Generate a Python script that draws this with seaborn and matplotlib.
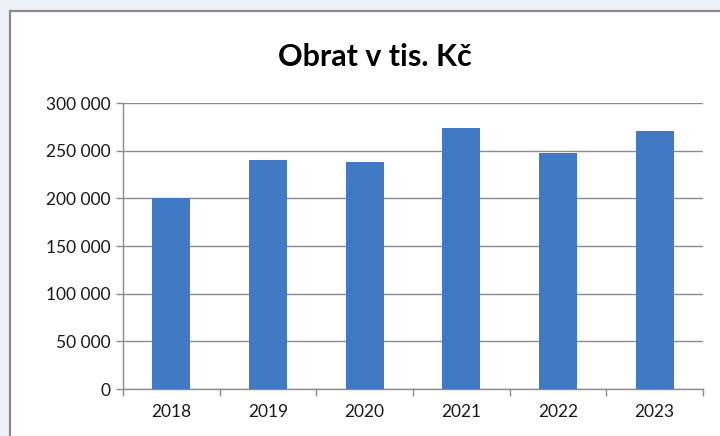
import matplotlib
matplotlib.use("Agg")
import matplotlib.pyplot as plt
import matplotlib.ticker as mticker
from matplotlib.patches import Rectangle
import seaborn as sns
import pandas as pd

years = ["2018", "2019", "2020", "2021", "2022", "2023"]
obrat = [200000, 240000, 238000, 274000, 248000, 271000]
yticks = [0, 50000, 100000, 150000, 200000, 250000, 300000]
title = "Obrat v tis. Kč"

sns.set_style("white")
plt.rcParams["font.family"] = ["Lato", "DejaVu Sans"]

fig = plt.figure(figsize=(7.2, 4.36), dpi=100, facecolor="#eef1f7")
bg = Rectangle((9.5 / 720, -0.1), 1.2, 1 - 11.5 / 436 + 0.1, transform=fig.transFigure,
               facecolor="white", edgecolor="#8a8a8a", linewidth=1.6, zorder=-5)
fig.patches.append(bg)

ax = fig.add_axes([123 / 720, 1 - 389 / 436, 580 / 720, 286 / 436])
ax.set_facecolor("none")
df = pd.DataFrame({"rok": years, "obrat": obrat})
sns.barplot(data=df, x="rok", y="obrat", color="#4079c4", saturation=1, width=0.39,
            linewidth=0, ax=ax, zorder=3)

ax.set_ylim(0, 300000)
ax.set_xlim(-0.5, len(years) - 0.5)
ax.set_yticks(yticks)
ax.yaxis.set_major_formatter(mticker.FuncFormatter(lambda v, p: f"{int(v):,}".replace(",", " ")))
ax.yaxis.grid(True, color="#8c8c8c", linewidth=1.0, zorder=0)
ax.set_axisbelow(True)
for s in ["top", "right"]:
    ax.spines[s].set_visible(False)
for s in ["left", "bottom"]:
    ax.spines[s].set_color("#8c8c8c")
    ax.spines[s].set_linewidth(1.0)
ax.set_xlabel("")
ax.set_ylabel("")
ax.tick_params(axis="y", length=5, width=1, color="#8c8c8c", labelsize=12.5, labelcolor="#1a1a1a", pad=4, left=True)
ax.tick_params(axis="x", which="major", length=0, labelsize=12.5, labelcolor="#1a1a1a", pad=11)
ax.set_xticks([i - 0.5 for i in range(len(years) + 1)], minor=True)
ax.tick_params(axis="x", which="minor", length=5, width=1, color="#8c8c8c", bottom=True)

fig.text(375 / 720, 1 - 57 / 436, title, ha="center", va="center", fontsize=22, fontweight="bold", color="black")

fig.savefig("out.png", dpi=100, facecolor=fig.get_facecolor())
